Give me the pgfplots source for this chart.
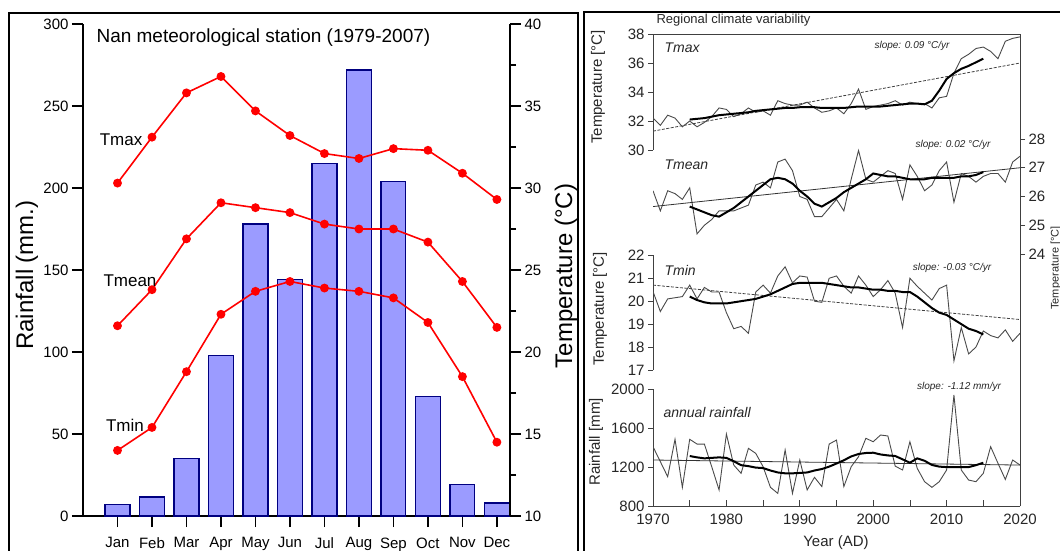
\documentclass[border=0pt]{standalone}
\usepackage{pgfplots}
\pgfplotsset{compat=1.18}
\usepackage{pgfplotstable}
\usepackage{fontspec}
\setmainfont{Liberation Sans}
\definecolor{barfill}{HTML}{9B9BFF}
\definecolor{baredge}{HTML}{000080}
\definecolor{rawgray}{HTML}{4A4A4A}

% monthly climatology, Nan station
\pgfplotstableread{
mon rain tmax tmean tmin
1  7    30.3 21.6 14.0
2  11.5 33.1 23.8 15.4
3  35   35.8 26.9 18.8
4  98   36.8 29.1 22.3
5  178  34.7 28.8 23.7
6  144  33.2 28.5 24.3
7  215  32.1 27.8 23.9
8  272  31.8 27.5 23.7
9  204  32.4 27.5 23.3
10 73   32.3 26.7 21.8
11 19   30.9 24.3 18.5
12 8    29.3 21.5 14.5
}\monthly

% annual series
\pgfplotstableread{
year tmax tmean tmin rain
1970 32.2 26.2 20.42 1410
1971 31.7 25.5 19.55 1256
1972 32.4 26.2 20.1 1101
1973 32.2 26.1 20.15 1486
1974 31.6 25.9 20.2 992
1975 32.0 26.3 20.7 1486
1976 31.6 24.7 20.1 1437
1977 31.9 25.0 20.6 1437
1978 32.3 25.2 20.4 1204
1979 32.9 25.5 20.4 965
1980 32.8 25.5 19.5 1540
1981 32.3 25.5 18.8 1221
1982 32.5 25.6 18.9 1136
1983 32.9 25.7 18.6 1393
1984 32.6 26.4 20.4 1341
1985 32.7 26.5 20.7 1204
1986 32.4 26.3 20.35 992
1987 33.4 27.2 21.1 930
1988 33.2 27.3 21.5 1376
1989 33.1 26.9 20.8 930
1990 33.1 26.0 21.1 1273
1991 33.3 25.9 21.05 965
1992 32.9 25.3 20.0 1095
1993 32.6 25.3 19.95 1000
1994 32.7 25.6 21.0 1437
1995 32.9 25.9 21.1 1478
1996 32.5 25.5 20.65 1000
1997 33.2 26.6 20.35 1204
1998 34.2 27.6 21.1 1307
1999 32.8 26.6 20.7 1496
2000 33.0 26.5 20.2 1461
2001 33.1 26.7 20.5 1530
2002 33.2 26.9 20.9 1520
2003 33.4 26.8 20.35 1210
2004 33.1 25.9 18.85 1170
2005 33.3 27.1 21.0 1461
2006 33.2 26.7 20.65 1187
2007 33.2 26.2 20.35 1050
2008 32.9 26.4 20.05 992
2009 33.6 26.9 20.55 1050
2010 33.7 27.2 20.7 1170
2011 35.3 25.8 17.4 1941
2012 36.3 26.8 18.85 1170
2013 36.6 26.7 17.7 1067
2014 37.0 26.5 18.0 1050
2015 37.1 26.7 18.7 1136
2016 36.8 26.8 18.5 1410
2017 36.3 26.8 18.4 1239
2018 37.5 26.5 18.75 1073
2019 37.7 27.2 18.25 1273
2020 37.8 27.4 18.6 1221
}\annual

% smoothed series
\pgfplotstableread{
year tmax tmean tmin rain
1975 32.1 25.65 20.2 1314
1976 32.15 25.55 20.05 1300
1977 32.2 25.45 19.95 1290
1978 32.3 25.35 19.9 1295
1979 32.4 25.3 19.9 1300
1980 32.45 25.45 19.9 1295
1981 32.5 25.6 19.95 1260
1982 32.55 25.8 20.0 1220
1983 32.6 26.0 20.05 1210
1984 32.7 26.2 20.1 1195
1985 32.75 26.4 20.2 1190
1986 32.8 26.6 20.3 1165
1987 32.85 26.65 20.45 1145
1988 32.9 26.6 20.6 1136
1989 32.9 26.45 20.75 1136
1990 32.95 26.2 20.8 1140
1991 32.95 26.0 20.8 1145
1992 32.95 25.75 20.8 1165
1993 32.9 25.65 20.8 1180
1994 32.9 25.8 20.75 1205
1995 32.9 25.95 20.7 1237
1996 32.9 26.15 20.65 1270
1997 32.95 26.3 20.6 1310
1998 33.0 26.45 20.6 1335
1999 33.0 26.6 20.55 1345
2000 33.0 26.8 20.5 1348
2001 33.0 26.75 20.5 1330
2002 33.05 26.7 20.45 1320
2003 33.1 26.7 20.45 1314
2004 33.15 26.65 20.4 1280
2005 33.2 26.6 20.4 1245
2006 33.2 26.6 20.2 1290
2007 33.15 26.6 19.95 1265
2008 33.4 26.65 19.7 1222
2009 34.1 26.65 19.5 1205
2010 34.9 26.65 19.4 1200
2011 35.3 26.65 19.2 1200
2012 35.6 26.7 19.0 1200
2013 35.8 26.7 18.8 1200
2014 36.05 26.75 18.7 1220
2015 36.3 26.85 18.55 1245
}\smooth

\pgfplotsset{
  rp/.style={
    scale only axis, anchor=south west, width=367pt,
    xmin=1970, xmax=2020,
    tick align=outside, major tick length=5pt,
    axis line style={black!75, line width=0.8pt, -},
    tick style={black!75, line width=0.8pt},
    ticklabel style={font=\fontsize{15}{15}\selectfont, text=black!85},
    /pgf/number format/assume math mode=true,
    /pgf/number format/1000 sep={},
  },
  panel/.style={rp, axis x line=none, axis y line*=left},
  raw/.style={rawgray, line width=0.9pt},
  smo/.style={black, line width=2pt},
  trend/.style={black!75, line width=0.8pt, dash pattern=on 3pt off 1.5pt},
}

\begin{document}
\begin{tikzpicture}[x=1pt, y=1pt]
% panel frames
\draw[line width=1.8pt] (9,-10) -- (9,537) -- (578,537) -- (578,-10);
\draw[line width=1.8pt] (584,-10) -- (584,538) -- (1070,538);

% ---------- left: Nan station ----------
\begin{axis}[
  at={(83pt,34pt)}, anchor=south west, scale only axis,
  width=427pt, height=492pt,
  xmin=0, xmax=12.38, ymin=0, ymax=300,
  axis x line*=bottom, axis y line*=left,
  axis line style={line width=1.6pt, -},
  tick align=outside, major tick length=11pt,
  tick style={black, line width=1.6pt},
  xtick={1,...,12},
  xticklabels={Jan,Feb,Mar,Apr,May,Jun,Jul,Aug,Sep,Oct,Nov,Dec},
  ytick={0,50,...,300},
  ticklabel style={font=\fontsize{15}{15}\selectfont},
  xticklabel style={yshift=-7pt},
  /pgf/number format/assume math mode=true,
]
\addplot[ybar, bar width=0.72, fill=barfill, draw=baredge, line width=1.3pt]
  table[x=mon, y=rain] {\monthly};
\end{axis}
\begin{axis}[
  at={(83pt,34pt)}, anchor=south west, scale only axis,
  width=427pt, height=492pt,
  xmin=0, xmax=12.38, ymin=10, ymax=40,
  axis x line=none, axis y line*=right,
  axis line style={line width=1.6pt, -},
  tick align=outside, major tick length=11pt, minor tick length=6pt,
  tick style={black, line width=1.6pt},
  ytick={10,15,...,40}, minor ytick={12.5,17.5,...,37.5},
  ticklabel style={font=\fontsize{15}{15}\selectfont},
  /pgf/number format/assume math mode=true,
]
\addplot[red, line width=1.6pt, mark=*, mark size=3.6pt] table[x=mon, y=tmax] {\monthly};
\addplot[red, line width=1.6pt, mark=*, mark size=3.6pt] table[x=mon, y=tmean] {\monthly};
\addplot[red, line width=1.6pt, mark=*, mark size=3.6pt] table[x=mon, y=tmin] {\monthly};
\end{axis}

\node[anchor=west, font=\fontsize{19}{19}\selectfont] at (93,512) {Nan meteorological station (1979-2007)};
\node[font=\fontsize{17}{17}\selectfont] at (121,410) {Tmax};
\node[font=\fontsize{17}{17}\selectfont] at (130,269) {Tmean};
\node[font=\fontsize{17}{17}\selectfont] at (125,125) {Tmin};
\node[rotate=90, font=\fontsize{24}{24}\selectfont] at (27,275) {Rainfall (mm.)};
\node[rotate=90, font=\fontsize{24}{24}\selectfont] at (566,274) {Temperature (°C)};

% ---------- right: regional climate variability ----------
% frame and time axis
\begin{axis}[rp, at={(653pt,44pt)}, height=472pt, ymin=0, ymax=1,
  axis x line*=bottom, axis y line*=right, ytick=\empty,
  tick align=inside, major tick length=6pt, minor tick length=6pt,
  xtick={1970,1980,...,2020}, minor xtick={1975,1985,...,2015},
  xticklabel style={yshift=-4pt}]
\draw[black!75, line width=0.8pt] (rel axis cs:0,1) -- (rel axis cs:1,1);
\end{axis}

% Tmax
\begin{axis}[panel, at={(653pt,400pt)}, height=116pt, ymin=30, ymax=38, ytick={30,32,...,38}]
\addplot[raw] table[x=year, y=tmax] {\annual};
\addplot[trend] coordinates {(1970,31.3) (2020,36.0)};
\addplot[smo] table[x=year, y=tmax] {\smooth};
\end{axis}

% Tmean
\begin{axis}[rp, axis x line=none, axis y line*=right, at={(653pt,296pt)}, height=115pt,
  ymin=24, ymax=28, ytick={24,...,28}]
\addplot[raw] table[x=year, y=tmean] {\annual};
\addplot[black!80, line width=0.8pt] coordinates {(1970,25.65) (2020,27.0)};
\addplot[smo] table[x=year, y=tmean] {\smooth};
\end{axis}

% Tmin
\begin{axis}[panel, at={(653pt,180pt)}, height=114.7pt, ymin=17, ymax=22, ytick={17,...,22}]
\addplot[raw] table[x=year, y=tmin] {\annual};
\addplot[trend] coordinates {(1970,20.7) (2020,19.2)};
\addplot[smo] table[x=year, y=tmin] {\smooth};
\end{axis}

% rainfall
\begin{axis}[panel, at={(653pt,44pt)}, height=116.7pt, ymin=800, ymax=2000,
  ytick={800,1200,1600,2000}]
\addplot[raw] table[x=year, y=rain] {\annual};
\addplot[black!80, line width=0.8pt] coordinates {(1970,1273) (2020,1221)};
\addplot[smo] table[x=year, y=rain] {\smooth};
\end{axis}

\begin{scope}[text=black!85]
\node[anchor=west, font=\fontsize{13}{13}\selectfont] at (653,530) {Regional climate variability};
\node[anchor=west, font=\fontsize{14}{14}\itshape] at (661,502) {Tmax};
\node[anchor=west, font=\fontsize{14}{14}\itshape] at (661,385) {Tmean};
\node[anchor=west, font=\fontsize{14}{14}\itshape] at (661,280) {Tmin};
\node[anchor=west, font=\fontsize{14}{14}\itshape] at (660,138) {annual rainfall};
\node[font=\fontsize{10}{10}\itshape] at (912,504) {slope: 0.09 °C/yr};
\node[font=\fontsize{10}{10}\itshape] at (953,405) {slope: 0.02 °C/yr};
\node[font=\fontsize{10}{10}\itshape] at (952,282) {slope: -0.03 °C/yr};
\node[font=\fontsize{10}{10}\itshape] at (959,163) {slope: -1.12 mm/yr};
\node[rotate=90, font=\fontsize{15}{15}\selectfont] at (598,463) {Temperature [°C]};
\node[rotate=90, font=\fontsize{15}{15}\selectfont] at (600,241) {Temperature [°C]};
\node[rotate=90, font=\fontsize{15}{15}\selectfont] at (596,108) {Rainfall [mm]};
\node[rotate=90, anchor=north, inner sep=0.5pt, font=\fontsize{11}{11}\selectfont] at (1050,282) {Temperature [°C]};
\node[font=\fontsize{15}{15}\selectfont] at (836,7) {Year (AD)};
\end{scope}

\pgfresetboundingbox
\path[use as bounding box] (0,0) rectangle (1060,550);
\end{tikzpicture}
\end{document}
